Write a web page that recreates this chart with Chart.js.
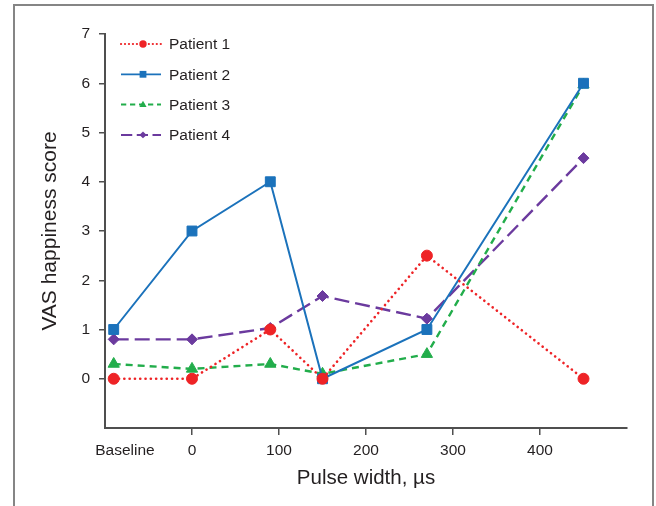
<!DOCTYPE html>
<html>
<head>
<meta charset="utf-8">
<script src="https://cdn.jsdelivr.net/npm/chart.js"></script>
<style>
    body { margin: 0; background: #fff; }
    #frame { position: absolute; left: 13px; top: 4px; width: 637px; height: 620px; border: 2px solid #858585; }
    #chart { position: absolute; left: 0; top: 0; }
</style>
</head>
<body>
<div id="frame"></div>
<canvas id="chart" width="656" height="506"></canvas>
<script>
// x positions of the measurements (baseline is plotted left of 0)
var pulseWidths = [-90, 0, 90, 150, 270, 450];

var patient1 = [0, 0, 1, 0, 2.5, 0];
var patient2 = [1, 3, 4, 0, 1, 6];
var patient3 = [0.3, 0.2, 0.3, 0.1, 0.5, 5.97];
var patient4 = [0.8, 0.8, 1.03, 1.68, 1.22, 4.48];

var seriesNames = ['Patient 1', 'Patient 2', 'Patient 3', 'Patient 4'];

var xTickValues = [-77, 0, 100, 200, 300, 400];
var xTickLabels = ['Baseline', '0', '100', '200', '300', '400'];
var yTickValues = [0, 1, 2, 3, 4, 5, 6, 7];

var FONT = "'Liberation Sans', Arial, sans-serif";
var AXIS = '#4f4f4f';

function toPoints(values) {
    return values.map(function (v, i) { return { x: pulseWidths[i], y: v }; });
}

function MakeDataset(label, values, color, dash, style, radius, width) {
    return {
        label: label,
        data: toPoints(values),
        borderColor: color,
        backgroundColor: color,
        borderWidth: width,
        borderDash: dash,
        borderCapStyle: dash.length && dash[0] < 1 ? 'round' : 'butt',
        pointStyle: style,
        pointRadius: radius,
        pointBackgroundColor: color,
        pointBorderColor: color,
        pointBorderWidth: 1,
        tension: 0
    };
}

var datasets = [
    MakeDataset(seriesNames[0], patient1, '#ee2326', [0.1, 5.2], 'circle', 5.5, 2.6),
    MakeDataset(seriesNames[1], patient2, '#1b72bb', [], 'rect', 7, 2),
    MakeDataset(seriesNames[2], patient3, '#22ad4b', [7, 5], 'triangle', 6.5, 2.4),
    MakeDataset(seriesNames[3], patient4, '#6b3a9e', [15, 6], 'rectRot', 5.5, 2.4)
];

// legend drawn inside the plot, with line sample + marker like the original
function drawMarker(ctx, style, x, y, r) {
    ctx.beginPath();
    if (style === 'circle') {
        ctx.arc(x, y, r, 0, Math.PI * 2);
    } else if (style === 'rect') {
        ctx.rect(x - r, y - r, 2 * r, 2 * r);
    } else if (style === 'triangle') {
        ctx.moveTo(x, y - r * 1.1);
        ctx.lineTo(x + r, y + r * 0.7);
        ctx.lineTo(x - r, y + r * 0.7);
        ctx.closePath();
    } else {
        ctx.moveTo(x, y - r);
        ctx.lineTo(x + r * 1.1, y);
        ctx.lineTo(x, y + r);
        ctx.lineTo(x - r * 1.1, y);
        ctx.closePath();
    }
    ctx.fill();
}

var insideLegend = {
    id: 'insideLegend',
    afterDraw: function (chart) {
        var ctx = chart.ctx;
        var left = chart.chartArea.left;
        var legendSizes = [3.7, 3.4, 3.6, 3.3];
        chart.data.datasets.forEach(function (ds, i) {
            var y = 44 + i * 30.3;
            ctx.save();
            ctx.strokeStyle = ds.borderColor;
            ctx.fillStyle = ds.borderColor;
            ctx.lineWidth = ds.borderWidth * 0.85;
            ctx.lineCap = ds.borderCapStyle;
            ctx.setLineDash(ds.borderDash.map(function (d) { return d * 0.75; }));
            ctx.beginPath();
            ctx.moveTo(left + 16, y);
            ctx.lineTo(left + 56, y);
            ctx.stroke();
            ctx.setLineDash([]);
            drawMarker(ctx, ds.pointStyle, left + 38, y, legendSizes[i]);
            ctx.fillStyle = '#231f20';
            ctx.font = '15.5px ' + FONT;
            ctx.textBaseline = 'middle';
            ctx.fillText(ds.label, left + 64, y + 1);
            ctx.restore();
        });
    }
};

var myLineChart = new Chart(document.getElementById('chart'), {
    type: 'line',
    data: { datasets: datasets },
    options: {
        responsive: false,
        animation: false,
        layout: { padding: { top: 34, right: 29, left: 0, bottom: 0 } },
        plugins: {
            legend: { display: false },
            tooltip: { enabled: false }
        },
        scales: {
            x: {
                type: 'linear',
                min: -100,
                max: 500,
                afterBuildTicks: function (scale) {
                    scale.ticks = xTickValues.map(function (v) { return { value: v }; });
                },
                afterFit: function (scale) { scale.height = 78; },
                ticks: {
                    color: '#231f20',
                    font: { family: FONT, size: 15.5 },
                    padding: 6,
                    maxRotation: 0,
                    autoSkip: false,
                    callback: function (value, index) { return xTickLabels[index]; }
                },
                grid: {
                    drawOnChartArea: false,
                    tickLength: 7,
                    lineWidth: 1.5,
                    color: AXIS,
                    tickColor: function (c) {
                        return c.tick && c.tick.value === xTickValues[0] ? 'rgba(0,0,0,0)' : AXIS;
                    }
                },
                border: { color: AXIS, width: 2 },
                title: {
                    display: true,
                    text: 'Pulse width, µs',
                    color: '#231f20',
                    font: { family: FONT, size: 20.5, lineHeight: 1.2 },
                    padding: { top: 0, bottom: 15 }
                }
            },
            y: {
                min: -1,
                max: 7,
                afterBuildTicks: function (scale) {
                    scale.ticks = yTickValues.map(function (v) { return { value: v }; });
                },
                afterFit: function (scale) { scale.width = 105; },
                ticks: {
                    color: '#231f20',
                    font: { family: FONT, size: 15.5 },
                    padding: 9
                },
                grid: {
                    drawOnChartArea: false,
                    tickLength: 6,
                    lineWidth: 1.5,
                    color: AXIS
                },
                border: { color: AXIS, width: 2 },
                title: {
                    display: true,
                    text: 'VAS happiness score',
                    color: '#231f20',
                    font: { family: FONT, size: 21, lineHeight: 1.2 },
                    padding: { top: 38, bottom: 0 }
                }
            }
        }
    },
    plugins: [insideLegend]
});
</script>
</body>
</html>
